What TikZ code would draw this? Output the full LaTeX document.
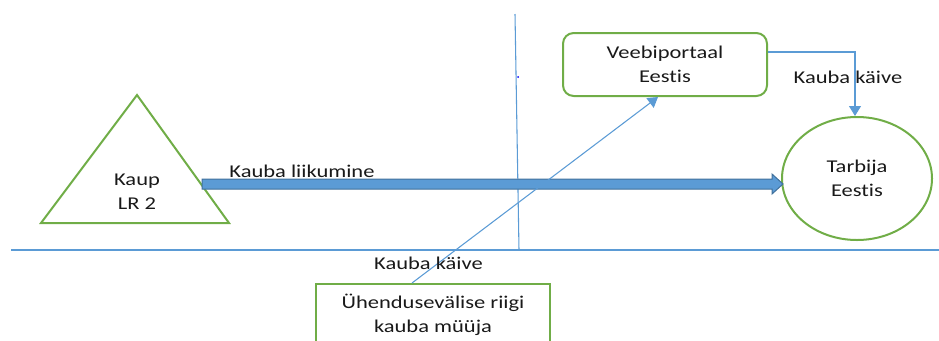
\documentclass[tikz,border=0pt]{standalone}
\usepackage{fontspec}
\setmainfont{Carlito}[FakeStretch=1.25,Ligatures=NoCommon,RawFeature={-liga;-clig;-dlig}]
\usetikzlibrary{arrows.meta,shapes.geometric,calc}
\definecolor{grn}{HTML}{70AD47}
\definecolor{lblue}{HTML}{5B9BD5}
\definecolor{dblue}{HTML}{41719C}
\def\px{0.75pt}
\tikzset{
  txt/.style={font=\fontsize{13.5}{18}\selectfont, text=black!90, align=center, inner sep=0pt},
  gbox/.style={draw=grn, line width=1.5pt, txt},
  thin/.style={draw=lblue, line width=0.8pt},
  tip/.style={-{Triangle[width=9pt,length=7.5pt]}}
}
\begin{document}
\begin{tikzpicture}[x=0.75pt,y=-0.75pt]
\useasboundingbox (0,0) rectangle (939,340);
% reference lines
\coordinate (hl) at (11,250);
\coordinate (hr) at (939,250);
\coordinate (vt) at (515,14);
\coordinate (vb) at (519,250);
\draw[thin] (hl) -- (hr);
\draw[thin] (vt) -- (vb);
\fill[blue] (518,77) circle[radius=1];
% triangle
\coordinate (tl) at (41,223);
\coordinate (tapex) at (137,95);
\coordinate (tr) at (229,223);
\draw[draw=grn, line width=1.5pt, line join=miter] (tl) -- (tapex) -- (tr) -- cycle;
\node[txt] (kaup) at (137,192) {Kaup\\LR 2};
% nodes
\node[gbox, rounded corners=8pt, minimum width=204*\px, minimum height=63*\px] (portal) at (665,64.5) {Veebiportaal\\Eestis};
\node[gbox, ellipse, minimum width=150*\px, minimum height=123*\px] (tarbija) at (857,178.5) {Tarbija\\Eestis};
\node[gbox, minimum width=234*\px, minimum height=61*\px] (seller) at (433,314.5) {Ühendusevälise riigi\\kauba müüja};
% big arrow
\coordinate (as) at (202,184);
\coordinate (ae) at (783,184);
\draw[fill=lblue, draw=dblue, line width=0.75pt]
  ($(as)+(0,-5)$) -- ($(ae)+(-11,-5)$) -- ($(ae)+(-11,-10)$) -- (ae) -- ($(ae)+(-11,10)$) -- ($(ae)+(-11,5)$) -- ($(as)+(0,5)$) -- cycle;
\node[txt] (liik) at (302,171) {Kauba liikumine};
% connectors
\draw[thin, tip] (portal.east |- 0,52) -| (tarbija.north -| 855,0);
\node[txt] (kk1) at (848,77) {Kauba käive};
\draw[thin, tip] ([xshift=-15.75pt]seller.north) -- ([xshift=-5.25pt]portal.south);
\node[txt] (kk2) at (428.5,263) {Kauba käive};
\end{tikzpicture}
\end{document}
